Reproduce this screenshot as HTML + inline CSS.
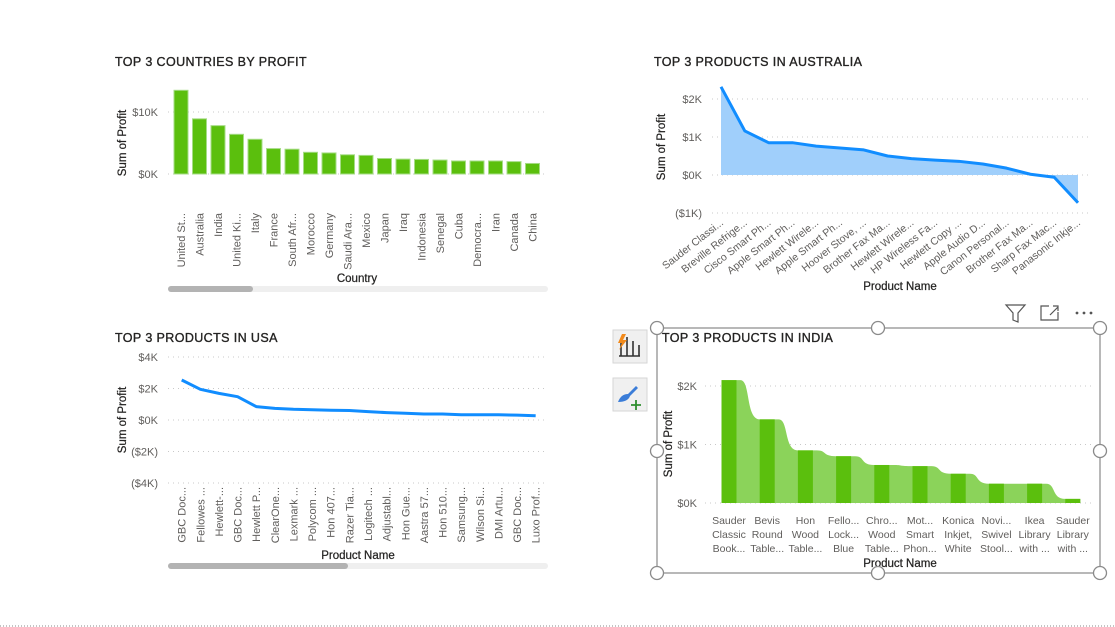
<!DOCTYPE html>
<html><head><meta charset="utf-8"><style>
body{margin:0;background:#fff;width:1115px;height:627px;overflow:hidden;font-family:"Liberation Sans",sans-serif;}
svg{position:absolute;left:0;top:0}
</style></head><body>
<svg id="s" width="1115" height="627" xmlns="http://www.w3.org/2000/svg"></svg>
<script>
const countryCats=["United St...","Australia","India","United Ki...","Italy","France","South Afr...","Morocco","Germany","Saudi Ara...","Mexico","Japan","Iraq","Indonesia","Senegal","Cuba","Democra...","Iran","Canada","China"];
const countryProfit=[13.5,8.9,7.8,6.4,5.6,4.1,4.0,3.5,3.4,3.1,3.0,2.5,2.4,2.35,2.25,2.1,2.1,2.1,2.0,1.7];
const countryTicks=[0,10];
const ausCats=["Sauder Classi...","Breville Refrige...","Cisco Smart Ph...","Apple Smart Ph...","Hewlett Wirele...","Apple Smart Ph...","Hoover Stove, ...","Brother Fax Ma...","Hewlett Wirele...","HP Wireless Fa...","Hewlett Copy ...","Apple Audio D...","Canon Personal...","Brother Fax Ma...","Sharp Fax Mac...","Panasonic Inkje..."];
const ausProfit=[2.32,1.16,0.85,0.85,0.76,0.71,0.66,0.50,0.43,0.39,0.36,0.29,0.18,0.02,-0.06,-0.73];
const ausTicks=[2,1,0,-1];
const usaCats=["GBC Doc...","Fellowes ...","Hewlett-...","GBC Doc...","Hewlett P...","ClearOne...","Lexmark ...","Polycom ...","Hon 407...","Razer Tia...","Logitech ...","Adjustabl...","Hon Gue...","Aastra 57...","Hon 510...","Samsung...","Wilson Si...","DMI Artu...","GBC Doc...","Luxo Prof..."];
const usaProfit=[2.54,1.95,1.69,1.48,0.85,0.74,0.68,0.65,0.62,0.60,0.53,0.47,0.43,0.38,0.38,0.33,0.33,0.33,0.31,0.27];
const usaTicks=[4,2,0,-2,-4];
const indCats=[["Sauder","Classic","Book..."],["Bevis","Round","Table..."],["Hon","Wood","Table..."],["Fello...","Lock...","Blue"],["Chro...","Wood","Table..."],["Mot...","Smart","Phon..."],["Konica","Inkjet,","White"],["Novi...","Swivel","Stool..."],["Ikea","Library","with ..."],["Sauder","Library","with ..."]];
const indProfit=[2.1,1.43,0.9,0.8,0.65,0.63,0.5,0.33,0.33,0.07];
const indTicks=[2,1,0];

const S=document.getElementById('s');const NS="http://www.w3.org/2000/svg";
function E(t,a,p){const e=document.createElementNS(NS,t);for(const k in a)e.setAttribute(k,a[k]);(p||S).appendChild(e);return e;}
function T(x,y,txt,a,p){const e=E('text',Object.assign({x:x,y:y,'font-size':11,fill:'#605e5c'},a||{}),p);e.textContent=txt;return e;}
function fmt(v){return v<0?"($"+(-v)+"K)":"$"+v+"K";}
function grid(p,ticks,ys,x0,x1,lx){ticks.forEach(t=>{const y=ys(t);E('line',{x1:x0,x2:x1,y1:y,y2:y,stroke:'#c8c8c8','stroke-dasharray':'1 4'},p);const l=T(lx,y+4,fmt(t),{'text-anchor':'end'},p);});}
function title(x,y,t,p){const e=T(x,y,t,{'font-size':12.5,fill:'#252423',stroke:'#252423','stroke-width':0.35,'letter-spacing':'0.4'},p);}
function ytitle(x,y,p){const e=T(0,0,"Sum of Profit",{'font-size':11.5,fill:'#252423',stroke:'#252423','stroke-width':0.25,transform:`translate(${x},${y}) rotate(-90)`,'text-anchor':'middle'},p);}
function xtitle(x,y,t,p){const e=T(x,y,t,{'font-size':11.5,fill:'#252423',stroke:'#252423','stroke-width':0.25,'text-anchor':'middle'},p);}
function scrollbar(y,thumbEnd,p){const a=E('rect',{x:168,y:y-3,width:380,height:6,rx:3,fill:'#efefef'},p);const b=E('rect',{x:168,y:y-3,width:thumbEnd-168,height:6,rx:3,fill:'#b3b3b3'},p);}

// Chart 1
(function(){const g=E('g',{});
title(115,66,"TOP 3 COUNTRIES BY PROFIT",g);
const ys=v=>174-v*6.2, xs=i=>181+i*18.5;
grid(g,countryTicks,ys,168,548,158);
countryProfit.forEach((v,i)=>{const r=E('rect',{x:xs(i)-7,y:ys(v),width:14,height:ys(0)-ys(v),fill:'#5bbf0d',stroke:'#a6dc86','stroke-width':1},g);});
countryCats.forEach((c,i)=>{const t=T(0,0,c,{transform:`translate(${xs(i)+4},213) rotate(-90)`,'text-anchor':'end'},g);});
ytitle(126,143,g);xtitle(357,282,"Country",g);scrollbar(289,253,g);})();

// Chart 2
(function(){const g=E('g',{});
title(654,66,"TOP 3 PRODUCTS IN AUSTRALIA",g);
const ys=v=>175-v*38, xs=i=>721+i*23.8;
grid(g,ausTicks,ys,712,1092,702);
let d="M"+xs(0)+","+ys(0);ausProfit.forEach((v,i)=>d+=" L"+xs(i)+","+ys(v));d+=" L"+xs(ausProfit.length-1)+","+ys(0)+"Z";
const a=E('path',{d:d,fill:'#a0cffb'},g);
const l=E('polyline',{points:ausProfit.map((v,i)=>xs(i)+","+ys(v)).join(" "),fill:'none',stroke:'#118dff','stroke-width':3,'stroke-linejoin':'round'},g);
ausCats.forEach((c,i)=>{const t=T(0,0,c,{transform:`translate(${xs(i)+3},224) rotate(-38)`,'text-anchor':'end','font-size':10.5},g);});
ytitle(665,147,g);xtitle(900,290,"Product Name",g);})();

// Chart 3
(function(){const g=E('g',{});
title(115,342,"TOP 3 PRODUCTS IN USA",g);
const ys=v=>420-v*15.75, xs=i=>181.7+i*18.63;
grid(g,usaTicks,ys,168,548,158);
const l=E('polyline',{points:usaProfit.map((v,i)=>xs(i)+","+ys(v)).join(" "),fill:'none',stroke:'#118dff','stroke-width':3,'stroke-linejoin':'round'},g);
usaCats.forEach((c,i)=>{const t=T(0,0,c,{transform:`translate(${xs(i)+4},487) rotate(-90)`,'text-anchor':'end'},g);});
ytitle(126,420,g);xtitle(358,559,"Product Name",g);scrollbar(566,348,g);})();

// Chart 4
(function(){const g=E('g',{});
const ys=v=>503-v*58.5, xs=i=>729+i*38.2, bw=15;
grid(g,indTicks,ys,705,1095,697);
let d="M"+(xs(0)-bw/2)+","+ys(0)+" L"+(xs(0)-bw/2)+","+ys(indProfit[0]);
indProfit.forEach((v,i)=>{const r=xs(i)+bw/2;d+=" L"+r+","+ys(v);if(i<indProfit.length-1){const n=xs(i+1)-bw/2,w=ys(indProfit[i+1]);d+=` L${r+4},${ys(v)} C${r+14},${ys(v)} ${n-14},${w} ${n},${w}`;}});
d+=" L"+(xs(indProfit.length-1)+bw/2)+","+ys(0)+"Z";
const a=E('path',{d:d,fill:'#8bd35a'},g);
indProfit.forEach((v,i)=>{const r=E('rect',{x:xs(i)-bw/2,y:ys(v),width:bw,height:ys(0)-ys(v),fill:'#5bbf0d'},g);});
indCats.forEach((c,i)=>c.forEach((ln,j)=>{const t=T(xs(i),524+j*14,ln,{'text-anchor':'middle','font-size':10.5},g);}));
ytitle(672,444,g);xtitle(900,567,"Product Name",g);
const f=E('rect',{x:657,y:328,width:443,height:245,fill:'none',stroke:'#a0a0a0','stroke-width':1.5},g);
[[657,328],[878,328],[1100,328],[657,451],[1100,451],[657,573],[878,573],[1100,573]].forEach(p=>{const c=E('circle',{cx:p[0],cy:p[1],r:6.5,fill:'#fff',stroke:'#8a8a8a','stroke-width':1.3},g);});
title(662,342,"TOP 3 PRODUCTS IN INDIA",g);})();

// side icons & header icons
(function(){
const b1=E('rect',{x:613,y:330,width:34,height:33,fill:'#f0f0f0',stroke:'#d6d6d6'});
E('path',{d:'M621,356 V343 M627,356 V337 M633,356 V341 M619,356 H640 M639,356 V345',stroke:'#333','stroke-width':1.6,fill:'none'});
E('path',{d:'M622,334 L618,343 L622,343 L619,350 L627,340 L623,340 L626,334Z',fill:'#f28a1b'});
const b2=E('rect',{x:613,y:378,width:34,height:33,fill:'#f0f0f0',stroke:'#d6d6d6'});
E('path',{d:'M618,402 Q621,394 628,394 L636,386 L638,388 L630,396 Q628,402 618,402Z',fill:'#3b7dd8'});
E('path',{d:'M636,400 V410 M631,405 H641',stroke:'#2f8f2f','stroke-width':1.8});
const fi=E('path',{d:'M1006,305 H1025 L1018,313 V322 L1013,320 V313Z',fill:'none',stroke:'#555','stroke-width':1.2});
const ex=E('path',{d:'M1049,306 H1041 V320 H1058 V312 M1050,315 L1058,307 M1053,306 H1058 V311',fill:'none',stroke:'#555','stroke-width':1.2});
const dots=E('g',{fill:'#555'});
[1077,1084,1091].forEach(x=>E('circle',{cx:x,cy:313,r:1.4},dots));
const bl=E('line',{x1:0,x2:1115,y1:626,y2:626,stroke:'#888','stroke-dasharray':'1 2'});
})();
</script>
</body></html>
